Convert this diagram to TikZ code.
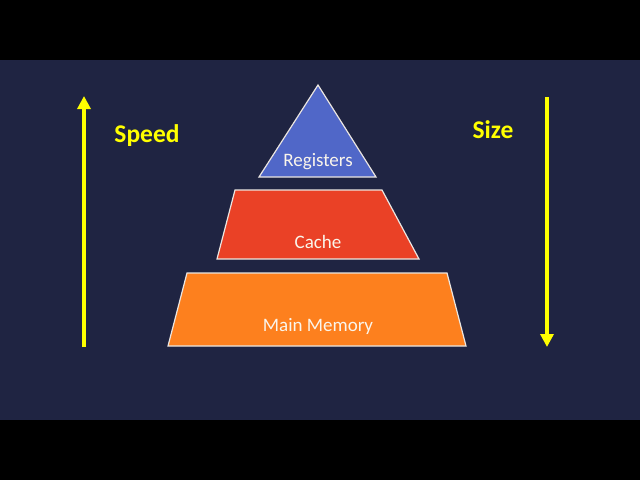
\documentclass[tikz,border=0pt]{standalone}
\usepackage{fontspec}
\setmainfont{Carlito}
\usetikzlibrary{arrows.meta}
\definecolor{bgnavy}{RGB}{31,36,66}
\definecolor{regblue}{RGB}{80,103,200}
\definecolor{cachered}{RGB}{234,65,38}
\definecolor{memorange}{RGB}{253,128,30}
\definecolor{arrowyellow}{RGB}{255,255,0}
\definecolor{edge}{RGB}{235,230,225}
\definecolor{labelwhite}{RGB}{250,245,235}
\tikzset{
  tier/.style={draw=edge, line width=1.2pt, line join=miter},
  tierlabel/.style={text=labelwhite, font=\fontsize{19}{21}\selectfont, inner sep=0pt},
  axislabel/.style={text=arrowyellow, font=\bfseries\fontsize{25.5}{28}\selectfont, inner sep=0pt},
  axisarrow/.style={draw=arrowyellow, line width=4pt, -{Triangle[length=13pt,width=13pt]}}
}
\begin{document}
\begin{tikzpicture}[x=1pt,y=-1pt]
\useasboundingbox (0,0) rectangle (640,480);
\fill[black] (0,0) rectangle (640,480);
\fill[bgnavy] (0,60) rectangle (640,420);
% tiers
\path[tier, fill=regblue] (318,85) -- (376,177) -- (259,177) -- cycle;
\path[tier, fill=cachered] (235,190) -- (382,190) -- (419,259) -- (217,259) -- cycle;
\path[tier, fill=memorange] (187,273) -- (447,273) -- (466,346) -- (168,346) -- cycle;
\node[tierlabel] (reg) at (318,161.5) {Registers};
\node[tierlabel] (cache) at (318,242) {Cache};
\node[tierlabel] (mem) at (318,326.5) {Main Memory};
% axes
\coordinate (sb) at (84,347);
\coordinate (st) at (84,96);
\coordinate (zt) at (547,97);
\coordinate (zb) at (547,347);
\draw[axisarrow] (sb) -- (st);
\draw[axisarrow] (zt) -- (zb);
\node[axislabel] (speed) at (147,135.5) {Speed};
\node[axislabel] (size) at (493,130) {Size};
\end{tikzpicture}
\end{document}
